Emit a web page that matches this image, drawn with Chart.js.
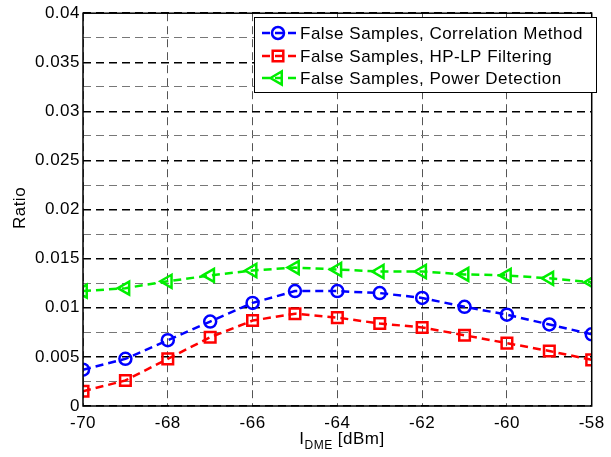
<!DOCTYPE html>
<html>
<head>
<meta charset="utf-8">
<script src="https://cdn.jsdelivr.net/npm/chart.js@4/dist/chart.umd.min.js"></script>
<style>
    html, body { margin: 0; padding: 0; background: #fff; }
    #wrap { width: 611px; height: 457px; }
</style>
</head>
<body>
<div id="wrap"><canvas id="chartRatio"></canvas></div>
<script>
// data
var xValues = [-70, -69, -68, -67, -66, -65, -64, -63, -62, -61, -60, -59, -58];
var correlation = [0.0037, 0.0048, 0.0067, 0.0086, 0.0105, 0.0117, 0.0117, 0.0115, 0.0110, 0.0101, 0.0093, 0.0083, 0.0073];
var hpLpFiltering = [0.0015, 0.0026, 0.0048, 0.0070, 0.0087, 0.0094, 0.0090, 0.0084, 0.0080, 0.0072, 0.0064, 0.0056, 0.0047];
var powerDetection = [0.0117, 0.0120, 0.0127, 0.0133, 0.0138, 0.0141, 0.0139, 0.0137, 0.0137, 0.0134, 0.0133, 0.0130, 0.0126];
var seriesLabels = ['False Samples, Correlation Method', 'False Samples, HP-LP Filtering', 'False Samples, Power Detection'];
var xTicks = [-70, -68, -66, -64, -62, -60, -58];

var FONT = '"Liberation Sans", Arial, sans-serif';
var SPACING = '0.5px';

function toPoints(ys) {
    return xValues.map(function (x, i) { return { x: x, y: ys[i] }; });
}

var seriesStyle = [
    { color: '#0000ff', point: 'circle', rot: 0, radius: 6 },
    { color: '#ff0000', point: 'rect', rot: 0, radius: 7.5 },
    { color: '#00ee00', point: 'triangle', rot: -90, radius: 7.5 }
];
var seriesData = [correlation, hpLpFiltering, powerDetection];

var datasets = seriesData.map(function (ys, i) {
    var s = seriesStyle[i];
    return {
        label: seriesLabels[i],
        data: toPoints(ys),
        borderColor: s.color,
        backgroundColor: 'rgba(0,0,0,0)',
        borderWidth: 2.5,
        borderDash: [8, 5],
        pointStyle: s.point,
        rotation: s.rot,
        pointRadius: s.radius,
        pointBorderWidth: 2.5,
        pointBorderColor: s.color,
        pointBackgroundColor: 'rgba(0,0,0,0)',
        tension: 0
    };
});

// frame, axis titles and legend box
var extras = {
    id: 'extras',
    beforeInit: function (chart) {
        chart.ctx.letterSpacing = SPACING;
    },
    beforeDraw: function (chart) {
        chart.ctx.letterSpacing = SPACING;
    },
    afterDraw: function (chart) {
        var ctx = chart.ctx;
        var a = chart.chartArea;
        ctx.save();
        ctx.letterSpacing = SPACING;
        ctx.strokeStyle = '#000';
        ctx.lineWidth = 1.5;
        ctx.setLineDash([]);
        ctx.strokeRect(a.left, a.top, a.right - a.left, a.bottom - a.top);

        // y title
        ctx.fillStyle = '#000';
        ctx.font = '17px ' + FONT;
        ctx.textAlign = 'center';
        ctx.textBaseline = 'middle';
        ctx.save();
        ctx.translate(20, 208);
        ctx.rotate(-Math.PI / 2);
        ctx.fillText('Ratio', 0, 0);
        ctx.restore();

        // x title with subscript
        ctx.textAlign = 'left';
        ctx.textBaseline = 'alphabetic';
        var base = 444;
        var w1 = ctx.measureText('I').width;
        ctx.font = '12px ' + FONT;
        var w2 = ctx.measureText('DME').width;
        ctx.font = '17px ' + FONT;
        var w3 = ctx.measureText(' [dBm]').width;
        var x0 = 342 - (w1 + w2 + w3) / 2;
        ctx.fillText('I', x0, base);
        ctx.font = '12px ' + FONT;
        ctx.fillText('DME', x0 + w1, base + 5);
        ctx.font = '17px ' + FONT;
        ctx.fillText(' [dBm]', x0 + w1 + w2, base);

        // legend
        ctx.fillStyle = '#fff';
        ctx.fillRect(254, 17, 342, 75);
        ctx.strokeStyle = '#000';
        ctx.lineWidth = 1;
        ctx.strokeRect(254.5, 17.5, 342, 75);
        var rows = [33, 56, 78];
        for (var i = 0; i < 3; i++) {
            var s = seriesStyle[i];
            var y = rows[i];
            ctx.strokeStyle = s.color;
            ctx.lineWidth = 2.5;
            ctx.setLineDash([8, 5]);
            ctx.beginPath();
            ctx.moveTo(262, y);
            ctx.lineTo(296, y);
            ctx.stroke();
            ctx.setLineDash([]);
            ctx.fillStyle = 'rgba(0,0,0,0)';
            Chart.helpers.drawPoint(ctx, { pointStyle: s.point, rotation: s.rot, radius: s.radius, borderWidth: 2.5 }, 278, y);
            ctx.fillStyle = '#000';
            ctx.font = '17px ' + FONT;
            ctx.textBaseline = 'middle';
            ctx.fillText(seriesLabels[i], 300, y + 1);
        }
        ctx.restore();
    }
};

new Chart(document.getElementById('chartRatio'), {
    type: 'line',
    data: { datasets: datasets },
    options: {
        responsive: true,
        maintainAspectRatio: false,
        animation: false,
        layout: { padding: { top: 11, right: 10, left: 0, bottom: 0 } },
        plugins: { legend: { display: false }, tooltip: { enabled: false } },
        scales: {
            x: {
                type: 'linear',
                min: -70,
                max: -58,
                afterBuildTicks: function (axis) {
                    axis.ticks = xTicks.map(function (v) { return { value: v }; });
                },
                afterFit: function (axis) { axis.height = 51; },
                grid: {
                    color: '#555',
                    lineWidth: 1,
                    drawTicks: false
                },
                border: { display: false, dash: [8, 5] },
                ticks: {
                    color: '#000',
                    font: { family: FONT, size: 17 },
                    padding: 7,
                    maxRotation: 0,
                    callback: function (v) { return v; }
                }
            },
            y: {
                min: 0,
                max: 0.04,
                afterFit: function (axis) { axis.width = 83; },
                ticks: {
                    stepSize: 0.0025,
                    color: '#000',
                    font: { family: FONT, size: 17 },
                    padding: 3,
                    autoSkip: false,
                    callback: function (v) {
                        var r = Math.round(v * 10000);
                        if (r % 50 !== 0) return '';
                        return String(parseFloat(v.toFixed(4)));
                    }
                },
                grid: {
                    drawTicks: false,
                    color: function (c) {
                        var r = Math.round(c.tick.value * 10000);
                        return r % 50 === 0 ? '#000' : '#777';
                    },
                    lineWidth: function (c) {
                        var r = Math.round(c.tick.value * 10000);
                        return r % 50 === 0 ? 1.5 : 1;
                    }
                },
                border: { display: false, dash: [8, 5] }
            }
        }
    },
    plugins: [extras]
});
</script>
</body>
</html>
